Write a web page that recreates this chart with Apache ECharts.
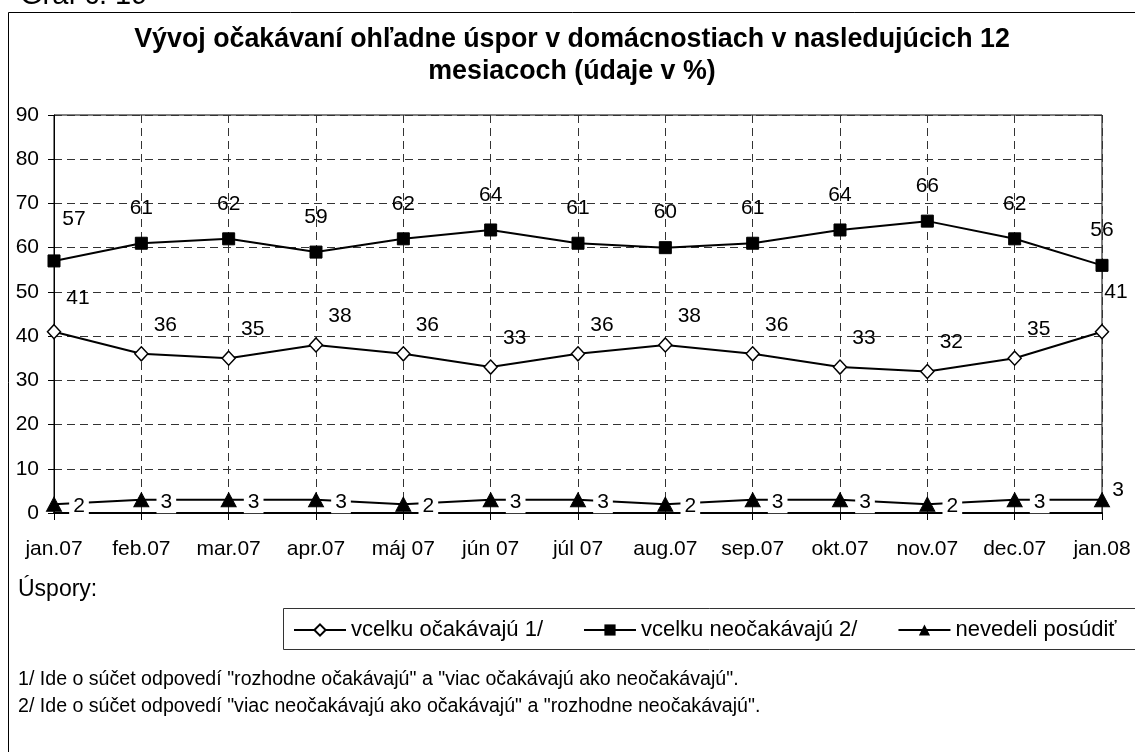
<!DOCTYPE html>
<html>
<head>
<meta charset="utf-8">
<script src="https://cdn.jsdelivr.net/npm/echarts@6/dist/echarts.min.js"></script>
<style>
  html, body { margin: 0; padding: 0; background: #fff; }
  #chart { width: 1135px; height: 752px; }
</style>
</head>
<body>
<div id="chart"></div>
<script>
// mesiace
var categories = ['jan.07', 'feb.07', 'mar.07', 'apr.07', 'máj 07', 'jún 07', 'júl 07', 'aug.07', 'sep.07', 'okt.07', 'nov.07', 'dec.07', 'jan.08'];
// hodnoty v %
var ocakavaju = [41, 36, 35, 38, 36, 33, 36, 38, 36, 33, 32, 35, 41];
var neocakavaju = [57, 61, 62, 59, 62, 64, 61, 60, 61, 64, 66, 62, 56];
var nevedeli = [2, 3, 3, 3, 2, 3, 3, 2, 3, 3, 2, 3, 3];
var yMin = 0, yMax = 90, yStep = 10;

var FONT = '"Liberation Sans", Arial, sans-serif';
var last = categories.length - 1;

var chart = echarts.init(document.getElementById('chart'));

// posun popisiek (len styl)
function withOffset(values, fn) {
  return values.map(function (v, i) {
    return { value: v, label: { offset: fn(i) } };
  });
}

var labelBase = {
  show: true,
  position: 'inside',
  color: '#000',
  fontFamily: FONT,
  fontSize: 21
};

var option = {
  animation: false,
  backgroundColor: '#fff',
  textStyle: { fontFamily: FONT },
  title: {
    text: 'Vývoj očakávaní ohľadne úspor v domácnostiach v nasledujúcich 12\nmesiacoch (údaje v %)',
    left: 567,
    top: 19,
    textAlign: 'center',
    textStyle: { fontFamily: FONT, fontSize: 26.8, fontWeight: 'bold', color: '#000', lineHeight: 32 }
  },
  grid: {
    left: 54, right: 33, top: 115, bottom: 239,
    show: true, borderColor: '#000', borderWidth: 1
  },
  legend: {
    left: 293,
    top: 619,
    padding: 0,
    itemWidth: 52,
    itemHeight: 14,
    itemGap: 40,
    textStyle: { fontFamily: FONT, fontSize: 22, color: '#000' },
    data: ['vcelku očakávajú 1/', 'vcelku neočakávajú 2/', 'nevedeli posúdiť']
  },
  xAxis: {
    type: 'category',
    boundaryGap: false,
    data: categories,
    axisLine: { lineStyle: { color: '#000', width: 2 } },
    axisTick: { show: true, length: 7, lineStyle: { color: '#000' } },
    axisLabel: { color: '#000', fontSize: 21, fontFamily: FONT, margin: 26, interval: 0 },
    splitLine: { show: true, lineStyle: { color: '#333', type: [8, 5], width: 1 } }
  },
  yAxis: {
    type: 'value',
    min: yMin, max: yMax, interval: yStep,
    axisLine: { show: true, lineStyle: { color: '#000', width: 1 } },
    axisTick: { show: true, length: 6, lineStyle: { color: '#000' } },
    axisLabel: { color: '#000', fontSize: 21, fontFamily: FONT, margin: 15 },
    splitLine: { show: true, lineStyle: { color: '#333', type: [8, 5], width: 1 } }
  },
  series: [
    {
      name: 'vcelku očakávajú 1/',
      type: 'line',
      data: withOffset(ocakavaju, function (i) {
        if (i === 0) return [24, -33];
        if (i === last) return [14, -39];
        return [24, -29];
      }),
      symbol: 'diamond',
      symbolSize: [13, 14],
      lineStyle: { color: '#000', width: 2 },
      itemStyle: { color: '#fff', borderColor: '#000', borderWidth: 1.5 },
      label: labelBase,
      z: 3
    },
    {
      name: 'vcelku neočakávajú 2/',
      type: 'line',
      data: withOffset(neocakavaju, function (i) {
        if (i === 0) return [20, -42];
        return [0, -35];
      }),
      symbol: 'rect',
      symbolSize: 12,
      lineStyle: { color: '#000', width: 2 },
      itemStyle: { color: '#000', borderColor: '#000' },
      label: labelBase,
      z: 3
    },
    {
      name: 'nevedeli posúdiť',
      type: 'line',
      data: withOffset(nevedeli, function (i) {
        if (i === last) return [16, -10];
        return [25, 2];
      }),
      symbol: 'triangle',
      symbolSize: [15, 14],
      lineStyle: { color: '#000', width: 2 },
      itemStyle: { color: '#000', borderColor: '#000' },
      label: Object.assign({}, labelBase, {
        backgroundColor: '#fff',
        padding: [1, 4],
        lineHeight: 21
      }),
      z: 3
    }
  ],
  graphic: [
    {
      type: 'text', left: 20, top: -19,
      style: { text: 'Graf č. 19', font: '29px ' + FONT, fill: '#000' }
    },
    {
      type: 'rect', shape: { x: 8.5, y: 12.5, width: 1200, height: 800 },
      style: { fill: 'none', stroke: '#000', lineWidth: 1 }, silent: true
    },
    {
      type: 'rect', shape: { x: 283.5, y: 608.5, width: 900, height: 41 },
      style: { fill: 'none', stroke: '#333', lineWidth: 1 }, silent: true
    },
    {
      type: 'text', left: 18, top: 578,
      style: { text: 'Úspory:', font: '23px ' + FONT, fill: '#000' }
    },
    {
      type: 'text', left: 18, top: 670,
      style: { text: '1/ Ide o súčet odpovedí "rozhodne očakávajú" a "viac očakávajú ako neočakávajú".', font: '19.6px ' + FONT, fill: '#000' }
    },
    {
      type: 'text', left: 18, top: 697,
      style: { text: '2/ Ide o súčet odpovedí "viac neočakávajú ako očakávajú" a "rozhodne neočakávajú".', font: '19.6px ' + FONT, fill: '#000' }
    }
  ]
};

chart.setOption(option);
</script>
</body>
</html>
